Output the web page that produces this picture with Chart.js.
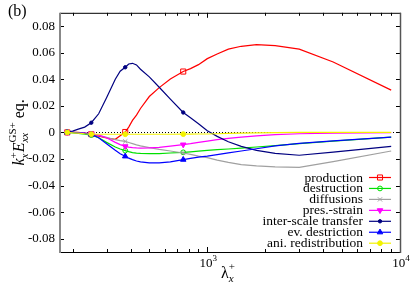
<!DOCTYPE html>
<html><head><meta charset="utf-8">
<script src="https://cdn.jsdelivr.net/npm/chart.js@4.4.1/dist/chart.umd.min.js"></script>
<style>html,body{margin:0;padding:0;background:#fff;}</style>
</head><body>
<canvas id="c" width="415" height="286"></canvas>
<script>
// ---- data ----
const lambdaX = [187.5, 200, 214, 231, 250, 273, 300, 333, 353, 375, 391, 409, 429, 450, 500, 563, 643, 750, 818, 900, 1000, 1125, 1286, 1500, 1800, 2250, 3000, 4500, 9000];
const production = [0, 0, 0, -0.0005, -0.0013, -0.0028, -0.0042, -0.0052, -0.0025, 0.0003, 0.004, 0.009, 0.013, 0.018, 0.027, 0.0337, 0.0402, 0.0458, 0.048, 0.051, 0.0555, 0.059, 0.0627, 0.0648, 0.066, 0.0653, 0.0627, 0.053, 0.0318];
const destruction = [0, -0.0003, -0.0008, -0.0013, -0.002, -0.004, -0.0075, -0.011, -0.0125, -0.0137, -0.0145, -0.0152, -0.0156, -0.0158, -0.016, -0.016, -0.0155, -0.015, -0.0146, -0.0141, -0.0136, -0.013, -0.0125, -0.0118, -0.011, -0.01, -0.0084, -0.0065, -0.0036];
const diffusions = [0, 0, -0.0002, -0.0005, -0.001, -0.0022, -0.0038, -0.0055, -0.0062, -0.0068, -0.0076, -0.0085, -0.0094, -0.0102, -0.0115, -0.0128, -0.014, -0.0155, -0.0165, -0.0178, -0.019, -0.0208, -0.0225, -0.0242, -0.0252, -0.0259, -0.0263, -0.022, -0.014];
const presStrain = [0, 0, -0.0002, -0.0005, -0.001, -0.002, -0.004, -0.0075, -0.0092, -0.0105, -0.0111, -0.0115, -0.0117, -0.0118, -0.0117, -0.0112, -0.0103, -0.0092, -0.0085, -0.0075, -0.0065, -0.0055, -0.0045, -0.0036, -0.0026, -0.0017, -0.001, -0.0005, -0.0002];
const interScale = [0.0005, 0.001, 0.0025, 0.004, 0.0073, 0.014, 0.026, 0.040, 0.046, 0.049, 0.0515, 0.052, 0.0508, 0.0475, 0.0418, 0.034, 0.025, 0.015, 0.011, 0.0065, 0.0013, -0.003, -0.007, -0.0105, -0.0135, -0.0158, -0.0172, -0.0148, -0.0105];
const evDestriction = [0, 0, -0.0003, -0.0008, -0.0015, -0.004, -0.0085, -0.0135, -0.016, -0.018, -0.0194, -0.0205, -0.0215, -0.0222, -0.0229, -0.0229, -0.0222, -0.0205, -0.0195, -0.0186, -0.0178, -0.0167, -0.0154, -0.014, -0.0123, -0.0102, -0.0082, -0.0064, -0.0036];
const aniRedistribution = [0, -0.0003, -0.0006, -0.001, -0.0013, -0.0014, -0.0014, -0.0014, -0.0014, -0.0014, -0.0014, -0.0014, -0.0014, -0.0014, -0.0014, -0.0014, -0.0014, -0.0013, -0.0013, -0.0012, -0.0012, -0.001, -0.0008, -0.0005, -0.0003, -0.0001, 0, 0, 0];
const seriesNames = ['production', 'destruction', 'diffusions', 'pres.-strain', 'inter-scale transfer', 'ev. destriction', 'ani. redistribution'];
const yTickValues = [-0.08, -0.06, -0.04, -0.02, 0, 0.02, 0.04, 0.06, 0.08];
const xMajorTicks = [1000, 10000];
const xMinorTicks = [200, 300, 400, 500, 600, 700, 800, 900, 2000, 3000, 4000, 5000, 6000, 7000, 8000, 9000];
const xTickExponents = ['3', '4'];

// ---- styles ----
const SERIF = '"Liberation Serif","Times New Roman",serif';
const allSeries = [production, destruction, diffusions, presStrain, interScale, evDestriction, aniRedistribution];
const styles = [
  {c: '#ff0000', ps: 'rect', r: 3.6, fill: false, rot: 0},
  {c: '#00e000', ps: 'circle', r: 2.4, fill: false, rot: 0},
  {c: '#a0a0a0', ps: 'crossRot', r: 3, fill: false, rot: 0},
  {c: '#ff00ff', ps: 'triangle', r: 3.2, fill: true, rot: 180},
  {c: '#000080', ps: 'circle', r: 1.7, fill: true, rot: 0},
  {c: '#0000ff', ps: 'triangle', r: 3.2, fill: true, rot: 0},
  {c: '#f2f200', ps: 'circle', r: 2.4, fill: true, rot: 0}
];
const markedIndex = [0, 4, 9, 17];

const datasets = allSeries.map((vals, i) => ({
  label: seriesNames[i],
  data: vals.map((v, k) => ({x: lambdaX[k], y: v})),
  borderColor: styles[i].c,
  backgroundColor: styles[i].fill ? styles[i].c : 'rgba(255,255,255,0)',
  borderWidth: 1.2,
  pointStyle: styles[i].ps,
  rotation: styles[i].rot,
  pointBorderWidth: 1,
  pointRadius: ctx => markedIndex.includes(ctx.dataIndex) ? styles[i].r : 0,
  pointHoverRadius: 0,
  tension: 0,
  order: 7 - i
}));

function drawScript(ctx, parts, x, baseline) {
  let cx = x;
  for (const p of parts) {
    if (p.group) {
      let w = 0;
      for (const g of p.group) { ctx.font = g.font; ctx.fillText(g.t, cx, baseline + g.dy); w = Math.max(w, ctx.measureText(g.t).width); }
      cx += w;
    } else {
      ctx.font = p.font; ctx.fillText(p.t, cx, baseline + (p.dy || 0)); cx += ctx.measureText(p.t).width;
    }
  }
  return cx - x;
}
function measureScript(ctx, parts) {
  let w = 0;
  for (const p of parts) {
    if (p.group) { let m = 0; for (const g of p.group) { ctx.font = g.font; m = Math.max(m, ctx.measureText(g.t).width); } w += m; }
    else { ctx.font = p.font; w += ctx.measureText(p.t).width; }
  }
  return w;
}

const decorPlugin = {
  id: 'decor',
  beforeDatasetsDraw(chart) {
    const {ctx, chartArea: a, scales: {y}} = chart;
    const y0 = Math.round(y.getPixelForValue(0)) + 0.5;
    ctx.save();
    ctx.strokeStyle = '#000'; ctx.lineWidth = 1; ctx.setLineDash([1, 2]);
    ctx.beginPath(); ctx.moveTo(a.left, y0); ctx.lineTo(a.right, y0); ctx.stroke();
    ctx.restore();
  },
  afterDraw(chart) {
    const {ctx, chartArea: a, scales: {x, y}} = chart;
    ctx.save();
    ctx.strokeStyle = '#000'; ctx.lineWidth = 1;
    ctx.beginPath();
    for (const v of yTickValues) {
      const py = Math.round(y.getPixelForValue(v)) + 0.5;
      ctx.moveTo(a.left, py); ctx.lineTo(a.left + 4, py);
      ctx.moveTo(a.right, py); ctx.lineTo(a.right - 4, py);
    }
    for (const v of xMinorTicks) {
      const px = Math.round(x.getPixelForValue(v)) + 0.5;
      ctx.moveTo(px, a.bottom); ctx.lineTo(px, a.bottom - 3);
      ctx.moveTo(px, a.top); ctx.lineTo(px, a.top + 3);
    }
    for (const v of xMajorTicks) {
      const px = Math.round(x.getPixelForValue(v)) + 0.5;
      ctx.moveTo(px, a.bottom); ctx.lineTo(px, a.bottom - 5);
      ctx.moveTo(px, a.top); ctx.lineTo(px, a.top + 5);
    }
    ctx.stroke();
    ctx.beginPath();
    ctx.moveTo(a.left, a.top + 0.5); ctx.lineTo(a.right, a.top + 0.5);
    ctx.moveTo(a.left, a.bottom + 0.5); ctx.lineTo(a.right, a.bottom + 0.5);
    ctx.stroke();
    ctx.strokeStyle = '#555'; ctx.lineWidth = 1.5;
    ctx.beginPath(); ctx.moveTo(a.right + 0.5, a.top); ctx.lineTo(a.right + 0.5, a.bottom + 1); ctx.stroke();
    ctx.strokeStyle = '#888'; ctx.lineWidth = 2;
    ctx.beginPath(); ctx.moveTo(a.left, a.top); ctx.lineTo(a.left, a.bottom + 1); ctx.stroke();

    ctx.fillStyle = '#000';
    ctx.textAlign = 'left'; ctx.textBaseline = 'alphabetic';
    xMajorTicks.forEach((v, i) => {
      const parts = [{t: '10', font: '13px ' + SERIF}, {t: xTickExponents[i], font: '9px ' + SERIF, dy: -6}];
      const w = measureScript(ctx, parts);
      drawScript(ctx, parts, x.getPixelForValue(v) - w / 2 + 1, 267);
    });
    drawScript(ctx, [{t: 'λ', font: '16px ' + SERIF}, {group: [{t: '+', font: '11px ' + SERIF, dy: -8}, {t: 'x', font: 'italic 11px ' + SERIF, dy: 4}]}], 221, 278);
    const yParts = [
      {t: 'k', font: 'italic 16px ' + SERIF},
      {group: [{t: '+', font: '11px ' + SERIF, dy: -7}, {t: 'x', font: 'italic 11px ' + SERIF, dy: 4}]},
      {t: 'E', font: 'italic 16px ' + SERIF},
      {group: [{t: 'GS+', font: '11px ' + SERIF, dy: -8}, {t: 'xx', font: 'italic 11px ' + SERIF, dy: 4}]},
      {t: ' eq.', font: '16px ' + SERIF}
    ];
    ctx.save();
    ctx.translate(24, (a.top + a.bottom) / 2);
    ctx.rotate(-Math.PI / 2);
    const yw = measureScript(ctx, yParts);
    drawScript(ctx, yParts, -yw / 2, 0);
    ctx.restore();
    ctx.font = '16px ' + SERIF;
    ctx.fillText('(b)', 8, 16);
    ctx.font = '13.5px ' + SERIF;
    ctx.textAlign = 'right'; ctx.textBaseline = 'middle';
    seriesNames.forEach((name, i) => {
      const ly = 177.5 + i * 10.95;
      ctx.fillStyle = '#000';
      ctx.fillText(name, 363, ly + 0.5);
      const s = styles[i];
      ctx.strokeStyle = s.c; ctx.lineWidth = 1.2;
      ctx.beginPath(); ctx.moveTo(369, ly); ctx.lineTo(391, ly); ctx.stroke();
      ctx.fillStyle = s.fill ? s.c : 'rgba(255,255,255,0)';
      ctx.lineWidth = 1;
      Chart.helpers.drawPoint(ctx, {pointStyle: s.ps, rotation: s.rot, radius: s.r, borderWidth: 1}, 380, ly);
    });
    ctx.restore();
  }
};

new Chart(document.getElementById('c'), {
  type: 'line',
  data: {datasets},
  options: {
    responsive: false,
    animation: false,
    devicePixelRatio: 1,
    layout: {padding: {left: 0, right: 15, top: 10, bottom: 0}},
    plugins: {legend: {display: false}, tooltip: {enabled: false}},
    scales: {
      x: {
        type: 'logarithmic', min: 172, max: 10000,
        grid: {display: false}, border: {display: false},
        ticks: {display: false},
        afterFit: s => { s.height = 34; }
      },
      y: {
        type: 'linear', min: -0.09, max: 0.09,
        grid: {display: false, drawTicks: false}, border: {display: false},
        afterBuildTicks: s => { s.ticks = yTickValues.map(v => ({value: v})); },
        ticks: {
          color: '#000', padding: 5,
          font: {family: SERIF, size: 13},
          callback: v => (Math.abs(v) < 1e-9 ? '0' : v.toFixed(2))
        },
        afterFit: s => { s.width = 60; }
      }
    }
  },
  plugins: [decorPlugin]
});
</script>
</body></html>
